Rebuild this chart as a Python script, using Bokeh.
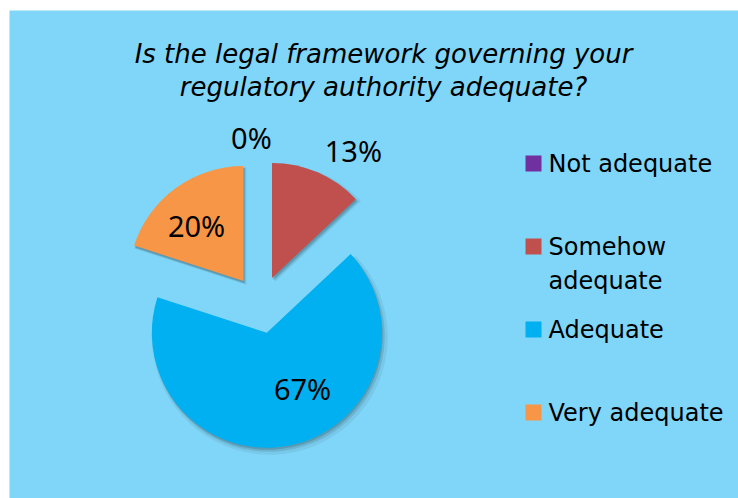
import math
from bokeh.plotting import figure
from bokeh.models import Range1d, ColumnDataSource
from bokeh.core.properties import value
from bokeh.embed import file_html
from bokeh.resources import INLINE

# ---- data ----
categories = ["Not adequate", "Somehow adequate", "Adequate", "Very adequate"]
percent = [0, 13, 67, 20]
colors = ["#7030A0", "#C0504D", "#00B0F0", "#F79646"]
legend_lines = [["Not adequate"], ["Somehow", "adequate"], ["Adequate"], ["Very adequate"]]
title_lines = ["Is the legal framework governing your", "regulatory authority adequate?"]

# label placement (distance in radii, angular nudge in degrees from bisector)
label_dist = [1.454, 1.564, 0.817, 0.884]
label_nudge = [-3.1, 7.7, -14.0, -3.0]

# ---- layout ----
W, H = 729, 488
BG = "#80D6F8"
CX, CY = 251, 194      # pie centre (data units = px)
R = 115
EXPLODE = 29

p = figure(width=738, height=498, output_backend="svg", toolbar_location=None,
           x_range=Range1d(0, W), y_range=Range1d(0, H),
           min_border_left=9, min_border_top=10, min_border_right=0, min_border_bottom=0)
p.axis.visible = False
p.grid.visible = False
p.outline_line_color = None
p.background_fill_color = BG
p.border_fill_color = "white"

total = float(sum(percent))
xs, ys, sa, ea, cols, mids = [], [], [], [], [], []
cum = 0.0
for v, c in zip(percent, colors):
    t0 = cum / total * 2 * math.pi
    t1 = (cum + v) / total * 2 * math.pi
    tm = (t0 + t1) / 2
    mids.append(tm)
    xs.append(CX + EXPLODE * math.sin(tm))
    ys.append(CY + EXPLODE * math.cos(tm))
    sa.append(math.pi / 2 - t0)
    ea.append(math.pi / 2 - t1)
    cols.append(c)
    cum += v

keep = [i for i, v in enumerate(percent) if v > 0]
src = ColumnDataSource(dict(x=[xs[i] for i in keep], y=[ys[i] for i in keep],
                            sa=[sa[i] for i in keep], ea=[ea[i] for i in keep],
                            c=[cols[i] for i in keep]))

# soft shadow
for dx, dy, a, rr in [(3, -4, 0.06, R + 3), (2, -3, 0.10, R + 1), (1, -2, 0.14, R)]:
    ssrc = ColumnDataSource(dict(x=[xs[i] + dx for i in keep], y=[ys[i] + dy for i in keep],
                                 sa=[sa[i] for i in keep], ea=[ea[i] for i in keep]))
    p.wedge(x="x", y="y", radius=rr, start_angle="sa", end_angle="ea", direction="clock",
            source=ssrc, fill_color="black", fill_alpha=a, line_color=None)

p.wedge(x="x", y="y", radius=R, start_angle="sa", end_angle="ea", direction="clock",
        source=src, fill_color="c", line_color=None)

# data labels
lx, ly, lt = [], [], []
for i, v in enumerate(percent):
    ang = mids[i] + math.radians(label_nudge[i])
    d = label_dist[i] * R
    lx.append(CX + d * math.sin(ang))
    ly.append(CY + d * math.cos(ang))
    lt.append(f"{v}%")
p.text(x=lx, y=ly, text=lt, text_font=value("Noto Sans"), text_font_size="29px",
       text_align="center", text_baseline="middle", text_color="black")

# title
for k, line in enumerate(title_lines):
    p.text(x=[374], y=[H - 43 - k * 33], text=[line], text_font=value("DejaVu Sans"),
           text_font_style="italic", text_font_size="26px", text_align="center",
           text_baseline="middle", text_color="black")

# legend
LX = 516
LY0 = H - 153
STEP = 83
LINE_H = 34
for i, lines in enumerate(legend_lines):
    yc = LY0 - i * STEP
    p.rect(x=[LX + 8], y=[yc], width=16, height=16, fill_color=colors[i], line_color=None)
    for j, ln in enumerate(lines):
        p.text(x=[LX + 23], y=[yc - j * LINE_H], text=[ln], text_font=value("DejaVu Sans"),
               text_font_size="24px", text_align="left", text_baseline="middle",
               text_color="black")

open("out.html", "w").write(file_html(p, INLINE))
